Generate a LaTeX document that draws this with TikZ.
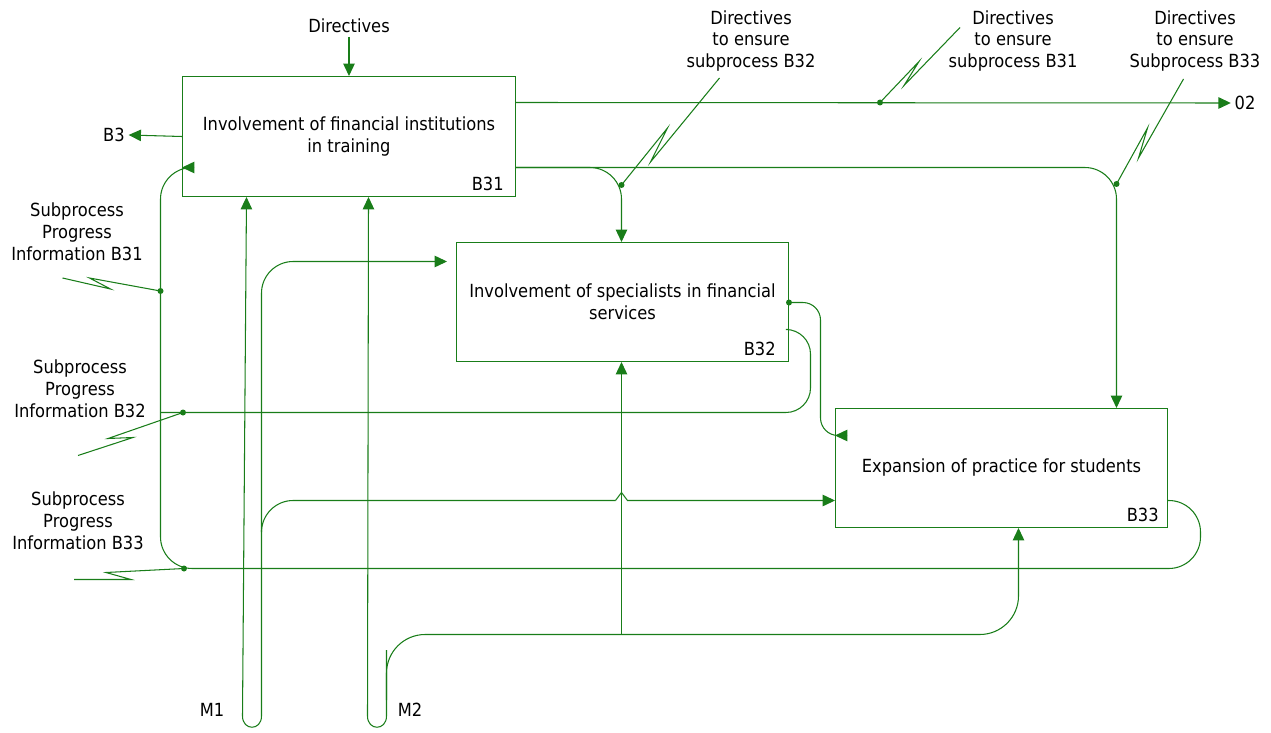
\documentclass[tikz,border=0pt]{standalone}
\usepackage{fontspec}
\setmainfont{DejaVu Sans}[FakeStretch=0.9]
\usetikzlibrary{arrows.meta}
\definecolor{idef}{RGB}{25,125,25}

\begin{document}
\begin{tikzpicture}[x=0.02cm,y=-0.02cm,
        every node/.style={inner sep=2pt,font=\fontsize{10.3}{12.5}\selectfont},
        box/.style={draw=idef,line width=0.6pt,minimum width=6.64cm,minimum height=2.38cm,align=center},
        boxid/.style={anchor=south east,inner sep=0pt},
        lbl/.style={align=center},
        wire/.style={draw=idef,line width=0.6pt},
        flow/.style={wire,-{Triangle[length=7pt,width=6.5pt]}}]
        \useasboundingbox (0,0) rectangle (1271,733);
        \node [box,minimum width=6.66cm,minimum height=2.4cm] (b31) at (349,136.5) {Involvement of financial institutions\\in training};
        \node [box] (b32) at (622.5,302) {Involvement of specialists in financial\\services};
        \node [box] (b33) at (1001.5,468) {Expansion of practice for students};
        \node [boxid] (b31id) at ([shift={(-0.24cm,0.12cm)}]b31.south east) {B31};
        \node [boxid] (b32id) at ([shift={(-0.26cm,0.12cm)}]b32.south east) {B32};
        \node [boxid] (b33id) at ([shift={(-0.18cm,0.12cm)}]b33.south east) {B33};
        \node (dirtop) at (349,26) {Directives};
        \node (b3) at (114,135) {B3};
        \node (o2) at (1245,103) {02};
        \node [lbl] (dir32) at (751,41) {Directives\\to ensure\\subprocess B32};
        \node [lbl] (dir31) at (1013,41) {Directives\\to ensure\\subprocess B31};
        \node [lbl] (dir33) at (1195,41) {Directives\\to ensure\\Subprocess B33};
        \node [lbl] (inf31) at (77,232) {Subprocess\\Progress\\Information B31};
        \node [lbl] (inf32) at (80,389) {Subprocess\\Progress\\Information B32};
        \node [lbl] (inf33) at (78,521) {Subprocess\\Progress\\Information B33};
        \node (m1) at (212,710) {M1};
        \node (m2) at (410,710) {M2};
        \coordinate (d31) at (880,102.5);
        \coordinate (d32) at (621.5,185);
        \coordinate (d33) at (1116.5,184);
        \coordinate (f31) at (160.5,291);
        \coordinate (f32) at (183,412.5);
        \coordinate (f33) at (184,568.5);
        \coordinate (o32) at (789,302.5);
        \draw [flow] (dirtop.south) -- (b31.north);
        \draw [flow] (b31.west |- 0,136.5) -- (b3.east);
        \draw [flow] (b31.east |- 0,102.5) -- (o2.west);
        \draw [flow,rounded corners=18] (b31.east |- 0,167.5) -- (621.5,167.5) -- (b32.north -| 621.5,0);
        \draw [flow,rounded corners=18] (b31.east |- 0,167.5) -- (1116.5,167.5) -- (b33.north -| 1116.5,0);
        \draw [flow,rounded corners=10] (o32) -- (820.5,302.5) -- (820.5,435.5) -- (b33.west |- 0,435.5);
        \draw [wire,rounded corners=14] (b32.east |- 0,329.5) -- (810.5,329.5) -- (810.5,412.5) -- (160.5,412.5);
        \draw [flow,rounded corners=18] (b33.east |- 0,500.5) -- (1200.5,500.5) -- (1200.5,568.5) -- (160.5,568.5) -- (160.5,167.5) -- (b31.west |- 0,167.5);
        \draw [flow] (261.5,520) -- (261.5,716) .. controls (261.5,731) and (242.5,731) .. (242.5,716) -- (b31.south -| 246.5,0);
        \draw [flow,rounded corners=18,shorten >=0.18cm] (261.5,520) -- (261.5,261.5) -- (b32.west |- 0,261.5);
        \draw [wire,rounded corners=18] (261.5,530) -- (261.5,500.5) -- (615.5,500.5);
        \draw [flow] (615.5,500.5) -- (621.5,492.5) -- (627.5,500.5) -- (b33.west |- 0,500.5);
        \draw [flow] (386.5,650) -- (386.5,716) .. controls (386.5,731) and (367.5,731) .. (367.5,716) -- (b31.south -| 368.5,0);
        \draw [flow,rounded corners=22] (386.5,700) -- (386.5,634.5) -- (1018.5,634.5) -- (b33.south -| 1018.5,0);
        \draw [flow] (621.5,634.5) -- (b32.south -| 621.5,0);
        \draw [wire] (d31) -- ++(39,-41) -- ++(-15,24) -- ++(56,-58);
        \draw [wire] (d32) -- ++(46,-57) -- ++(-17,34) -- ++(69,-84);
        \draw [wire] (d33) -- ++(31,-56) -- ++(-9,30) -- ++(45,-79);
        \draw [wire] (f31) -- ++(-71,-13) -- ++(21,11) -- ++(-48,-11);
        \draw [wire] (f32) -- ++(-75,26) -- ++(25,-1) -- ++(-55,18);
        \draw [wire] (f33) -- ++(-78,4) -- ++(25,7) -- ++(-57,0);
        \foreach \p in {d31,d32,d33,f31,f32,f33,o32}
            \fill [idef] (\p) circle (3);
\end{tikzpicture}
\end{document}
